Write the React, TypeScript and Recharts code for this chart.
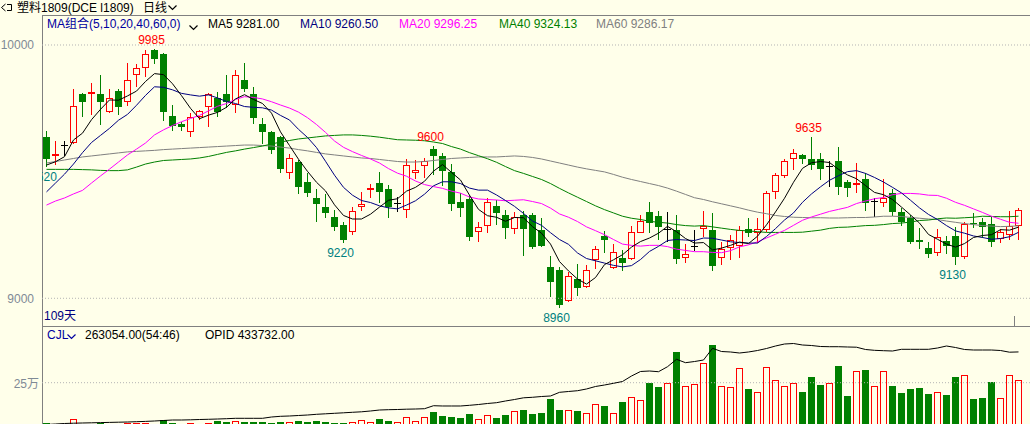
import React from 'react';
import {
  Bar,
  ComposedChart,
  Line,
  ReferenceDot,
  ReferenceLine,
  XAxis,
  YAxis,
} from 'recharts';

// daily bars, l1809, 109 sessions
const opens = [
  9635, 9560, 9605, 9615, 9805, 9808, 9805, 9735, 9820, 9775,
  9880, 9910, 9980, 9965, 9720, 9690, 9655, 9717, 9755, 9790,
  9805, 9765, 9860, 9805, 9690, 9655, 9635, 9495, 9540, 9460,
  9395, 9360, 9320, 9290, 9260, 9362, 9428, 9455, 9430, 9375,
  9350, 9496, 9523, 9590, 9560, 9500, 9379, 9392, 9263, 9287,
  9364, 9329, 9272, 9329, 9329, 9270, 9125, 9112, 8990, 9076,
  9046, 9151, 9246, 9118, 9158, 9155, 9259, 9340, 9325, 9274,
  9270, 9158, 9208, 9272, 9270, 9158, 9197, 9206, 9272, 9259,
  9270, 9418, 9484, 9549, 9566, 9550, 9550, 9523, 9542, 9460,
  9448, 9471, 9384, 9377, 9415, 9340, 9318, 9230, 9197, 9178,
  9226, 9246, 9164, 9299, 9300, 9292, 9234, 9250, 9287,
];
const highs = [
  9660, 9620, 9620, 9825, 9810, 9850, 9880, 9825, 9825, 9930,
  9925, 9980, 9985, 9970, 9765, 9695, 9730, 9745, 9810, 9815,
  9880, 9900, 9930, 9835, 9710, 9660, 9640, 9570, 9545, 9495,
  9430, 9410, 9350, 9300, 9362, 9420, 9450, 9500, 9447, 9400,
  9550, 9546, 9555, 9600, 9572, 9530, 9415, 9408, 9302, 9395,
  9388, 9349, 9342, 9345, 9337, 9316, 9167, 9125, 9105, 9135,
  9131, 9206, 9266, 9214, 9191, 9285, 9329, 9381, 9345, 9342,
  9329, 9213, 9270, 9346, 9338, 9223, 9250, 9285, 9318, 9318,
  9424, 9496, 9549, 9589, 9570, 9635, 9575, 9542, 9598, 9467,
  9533, 9493, 9397, 9470, 9430, 9358, 9329, 9279, 9223, 9274,
  9246, 9283, 9302, 9338, 9316, 9322, 9274, 9345, 9358,
];
const lows = [
  9520, 9525, 9560, 9610, 9715, 9725, 9685, 9730, 9725, 9760,
  9835, 9875, 9925, 9700, 9660, 9660, 9635, 9705, 9675, 9715,
  9750, 9730, 9815, 9690, 9610, 9570, 9495, 9470, 9410, 9400,
  9300, 9318, 9265, 9220, 9248, 9345, 9395, 9375, 9318, 9342,
  9318, 9470, 9476, 9487, 9445, 9345, 9322, 9227, 9223, 9259,
  9289, 9233, 9253, 9167, 9193, 9204, 9004, 8960, 8985, 9010,
  9040, 9116, 9178, 9115, 9109, 9150, 9257, 9259, 9230, 9223,
  9134, 9138, 9188, 9241, 9109, 9131, 9151, 9158, 9243, 9219,
  9263, 9391, 9476, 9507, 9529, 9506, 9467, 9438, 9408, 9401,
  9417, 9345, 9322, 9362, 9326, 9285, 9214, 9195, 9158, 9167,
  9175, 9130, 9154, 9276, 9237, 9204, 9217, 9230, 9230,
];
const closes = [
  9550, 9570, 9605, 9760, 9775, 9815, 9775, 9790, 9755, 9860,
  9910, 9965, 9945, 9735, 9680, 9675, 9715, 9740, 9805, 9735,
  9775, 9880, 9825, 9710, 9655, 9585, 9510, 9555, 9440, 9415,
  9372, 9338, 9280, 9230, 9345, 9372, 9435, 9420, 9362, 9375,
  9525, 9507, 9542, 9560, 9504, 9372, 9358, 9243, 9280, 9379,
  9338, 9279, 9320, 9272, 9204, 9208, 9066, 8974, 9088, 9042,
  9112, 9193, 9230, 9184, 9141, 9261, 9305, 9298, 9280, 9274,
  9156, 9174, 9208, 9287, 9129, 9193, 9230, 9270, 9259, 9272,
  9417, 9487, 9542, 9572, 9549, 9526, 9510, 9523, 9438, 9437,
  9454, 9375, 9384, 9397, 9340, 9302, 9223, 9223, 9174, 9241,
  9208, 9164, 9293, 9296, 9280, 9223, 9261, 9287, 9349,
];

const ma5 = [
  9526, 9539, 9559, 9625, 9652, 9705, 9746, 9783, 9782, 9799,
  9818, 9856, 9887, 9883, 9847, 9800, 9750, 9709, 9723, 9734,
  9754, 9787, 9804, 9785, 9769, 9731, 9657, 9603, 9549, 9501,
  9458, 9424, 9369, 9327, 9313, 9313, 9332, 9360, 9387, 9393,
  9423, 9438, 9462, 9502, 9528, 9497, 9467, 9407, 9351, 9326,
  9320, 9304, 9319, 9318, 9283, 9257, 9214, 9145, 9108, 9076,
  9056, 9082, 9133, 9152, 9172, 9202, 9224, 9238, 9257, 9284,
  9263, 9236, 9218, 9220, 9191, 9198, 9209, 9222, 9216, 9245,
  9290, 9341, 9395, 9458, 9513, 9535, 9540, 9536, 9509, 9487,
  9472, 9445, 9418, 9409, 9390, 9360, 9329, 9297, 9252, 9233,
  9214, 9202, 9216, 9240, 9248, 9251, 9271, 9269, 9281,
];
const ma10 = [
  9420, 9455, 9490, 9530, 9575, 9615, 9643, 9671, 9703, 9726,
  9762, 9801, 9835, 9833, 9823, 9809, 9803, 9798, 9803, 9791,
  9777, 9769, 9757, 9754, 9752, 9743, 9722, 9704, 9667, 9635,
  9595, 9541, 9486, 9438, 9407, 9386, 9378, 9365, 9357, 9353,
  9368, 9385, 9411, 9444, 9460, 9460, 9453, 9435, 9427, 9427,
  9408, 9386, 9363, 9335, 9305, 9288, 9259, 9232, 9213, 9179,
  9157, 9148, 9139, 9130, 9124, 9129, 9153, 9185, 9205, 9228,
  9232, 9230, 9228, 9238, 9237, 9230, 9223, 9220, 9218, 9218,
  9244, 9275, 9309, 9337, 9379, 9412, 9440, 9466, 9484, 9500,
  9504, 9493, 9477, 9459, 9438, 9416, 9387, 9357, 9331, 9311,
  9287, 9266, 9257, 9246, 9240, 9233, 9236, 9243, 9260.5,
];
const ma20 = [
  9368, 9384, 9396, 9412, 9426, 9455, 9483, 9510, 9538, 9566,
  9589, 9613, 9645, 9665, 9682, 9697, 9710, 9722, 9740, 9758,
  9769, 9785, 9796, 9793, 9787, 9776, 9763, 9751, 9735, 9713,
  9686, 9655, 9621, 9596, 9579, 9564, 9550, 9534, 9512, 9494,
  9482, 9463, 9449, 9441, 9434, 9423, 9415, 9400, 9392, 9390,
  9388, 9385, 9387, 9389, 9382, 9374, 9356, 9333, 9320, 9303,
  9282, 9267, 9251, 9232, 9214, 9209, 9206, 9209, 9209, 9204,
  9194, 9189, 9184, 9184, 9181, 9180, 9188, 9203, 9211, 9223,
  9238, 9253, 9268, 9288, 9308, 9321, 9332, 9343, 9351, 9359,
  9374, 9384, 9393, 9398, 9409, 9414, 9414, 9412, 9407, 9406,
  9395, 9379, 9367, 9353, 9339, 9324, 9312, 9300, 9296.25,
];
const ma40 = [
  9509, 9509, 9509, 9509, 9508, 9507, 9505, 9504, 9504, 9507,
  9518, 9530, 9538, 9544, 9546, 9548, 9550, 9554, 9560, 9568,
  9576, 9582, 9589, 9595, 9601, 9609, 9617, 9623, 9629, 9633,
  9637, 9641, 9643, 9645, 9645, 9643, 9640, 9636, 9631, 9626,
  9625, 9624, 9622, 9617, 9611, 9599, 9589, 9575, 9563, 9551,
  9537, 9520, 9504, 9493, 9481, 9469, 9453, 9434, 9416, 9399,
  9382, 9365, 9350, 9337, 9324, 9316, 9311, 9304, 9300, 9297,
  9291, 9287, 9285, 9287, 9282, 9277, 9272, 9268, 9266, 9263,
  9260, 9260, 9260, 9260, 9261, 9265, 9269, 9276, 9280, 9281,
  9284, 9287, 9288, 9291, 9295, 9297, 9301, 9307, 9309, 9314,
  9317, 9316, 9318, 9320, 9324, 9323, 9322, 9322, 9324.13,
];
const ma60 = [
  9534, 9540, 9546, 9552, 9558, 9562, 9566, 9570, 9574, 9578,
  9580, 9582, 9584, 9587, 9589, 9591, 9593, 9595, 9597, 9599,
  9601, 9603, 9605, 9605, 9603, 9601, 9597, 9593, 9587, 9582,
  9576, 9570, 9566, 9562, 9558, 9554, 9552, 9548, 9544, 9540,
  9538, 9538, 9540, 9544, 9548, 9552, 9554, 9556, 9558, 9558,
  9558, 9560, 9562, 9560, 9556, 9550, 9542, 9534, 9526, 9518,
  9511, 9505, 9499, 9489, 9478, 9469, 9461, 9453, 9445, 9435,
  9423, 9410, 9397, 9390, 9381, 9373, 9365, 9357, 9348, 9340,
  9334, 9327, 9323, 9320, 9319, 9318, 9318, 9317, 9317, 9318,
  9319, 9319, 9321, 9324, 9324, 9323, 9319, 9316, 9313, 9311,
  9305, 9300, 9295, 9291, 9287, 9285, 9283, 9284, 9286.17,
];

const volumes = [
  60000, 45000, 40000, 80000, 50000, 48000, 62000, 50000, 52000, 62000,
  62000, 60000, 50000, 75000, 62000, 52000, 60000, 50000, 60000, 72000,
  67000, 72000, 67000, 67000, 67000, 62000, 67000, 64000, 72000, 67000,
  72000, 67000, 62000, 62000, 67000, 75000, 67000, 80000, 72000, 67000,
  89000, 70000, 88000, 113000, 94000, 89000, 84000, 103000, 80000, 98000,
  84000, 98000, 117000, 122000, 103000, 108000, 174000, 122000, 122000, 117000,
  106000, 149000, 141000, 106000, 159000, 182000, 167000, 249000, 230000, 249000,
  394000, 233000, 244000, 341000, 427000, 233000, 228000, 318000, 220000, 206000,
  322000, 261000, 233000, 249000, 206000, 277000, 239000, 249000, 328000, 188000,
  303000, 310000, 233000, 303000, 235000, 202000, 220000, 225000, 197000, 206000,
  192000, 277000, 285000, 174000, 178000, 253000, 178000, 285000, 263054,
];
const openInterest = [
  59300, 61900, 64500, 66000, 67100, 68100, 69100, 70200, 71200, 72200,
  73800, 75300, 77400, 80000, 82500, 82500, 83600, 85100, 86200, 87700,
  89300, 91300, 91300, 91300, 91300, 98000, 101600, 103200, 105800, 108300,
  111900, 114500, 117100, 119700, 122300, 124800, 129000, 134100, 135700, 136700,
  138300, 139300, 140800, 156300, 154800, 154800, 154800, 158400, 162500, 167700,
  171800, 180600, 188300, 197100, 199700, 203800, 206400, 225400, 229600, 233700,
  242500, 255400, 263100, 271900, 281200, 309500, 332800, 335300, 331700, 357500,
  395700, 378200, 384300, 392100, 452400, 435900, 433400, 428200, 433400, 441100,
  451400, 464300, 474600, 477200, 469500, 466900, 461700, 460700, 460700, 459200,
  458100, 446300, 442100, 440100, 438500, 447300, 447300, 447300, 447300, 454000,
  464300, 456600, 446300, 443700, 443700, 443700, 441100, 432400, 433732,
];

const rows = closes.map((c, i) => ({
  i,
  range: [lows[i], highs[i]],
  o: opens[i],
  h: highs[i],
  l: lows[i],
  c,
  ma5: ma5[i],
  ma10: ma10[i],
  ma20: ma20[i],
  ma40: ma40[i],
  ma60: ma60[i],
  vol: volumes[i],
  opi: openInterest[i],
}));

const BG = '#FFFFEA';
const RED = '#FF0000';
const GREEN = '#008000';
const AXIS = '#808080';
const TICK = '#7f8a96';
const FONT = '"Liberation Sans", Arial, "Noto Sans CJK SC", sans-serif';

function Candle(props: any) {
  const { x, y, width, height, payload } = props;
  if (!payload) return null;
  const top = Math.min(y, y + height);
  const bot = Math.max(y, y + height);
  const { o, h, l, c } = payload;
  const k = h > l ? (bot - top) / (h - l) : 0;
  const py = (p: number) => Math.round(top + (h - p) * k);
  const cx = Math.floor(x + width / 2) + 0.5;
  const yH = py(h);
  const yL = py(l);
  const yO = py(o);
  const yC = py(c);
  if (c === o) {
    return (
      <g stroke="#000" strokeWidth={1}>
        <line x1={cx} x2={cx} y1={yH} y2={yL} />
        <line x1={cx - 3.5} x2={cx + 3.5} y1={yC + 0.5} y2={yC + 0.5} />
      </g>
    );
  }
  if (c > o) {
    const bh = Math.max(1, yO - yC - 1);
    return (
      <g stroke={RED} strokeWidth={1} fill="none">
        <line x1={cx} x2={cx} y1={yH} y2={yC} />
        <line x1={cx} x2={cx} y1={yO} y2={yL} />
        <rect x={cx - 3} y={yC + 0.5} width={6} height={bh} />
      </g>
    );
  }
  return (
    <g>
      <line x1={cx} x2={cx} y1={yH} y2={yL} stroke={GREEN} strokeWidth={1} />
      <rect x={cx - 3.5} y={yO} width={7} height={Math.max(1, yC - yO)} fill={GREEN} />
    </g>
  );
}

function VolBar(props: any) {
  const { x, y, width, height, payload } = props;
  if (!payload) return null;
  const top = Math.round(Math.min(y, y + height));
  const bot = Math.max(y, y + height);
  const cx = Math.floor(x + width / 2) + 0.5;
  if (payload.c >= payload.o) {
    return (
      <rect x={cx - 3} y={top + 0.5} width={6} height={bot - top} fill="none" stroke={RED} strokeWidth={1} />
    );
  }
  return <rect x={cx - 3.5} y={top} width={7} height={bot - top} fill={GREEN} />;
}

const markLabel = (text: string, color: string, dy: number) => (p: any) => {
  const vb = p.viewBox || {};
  const cx = vb.x + (vb.width || 0) / 2 - 3;
  const cy = vb.y + (vb.height || 0) / 2 + dy;
  return (
    <svg x={42} y={0} width={988} height={326} overflow="hidden">
      <text
        x={cx - 42}
        y={cy}
        textAnchor="middle"
        dominantBaseline="central"
        fill={color}
        fontSize={12}
        fontFamily={FONT}
      >
        {text}
      </text>
    </svg>
  );
};

const T = ({ x, y, color = '#000', children, right }: any) => (
  <span
    style={{
      position: 'absolute',
      left: right ? undefined : x,
      right: right ? 1030 - x : undefined,
      top: y - 7,
      fontSize: 12,
      lineHeight: '14px',
      color,
      fontFamily: FONT,
      whiteSpace: 'nowrap',
    }}
  >
    {children}
  </span>
);

const Chevron = ({ x, y, color }: any) => (
  <svg style={{ position: 'absolute', left: x, top: y }} width={10} height={6}>
    <polyline points="0.5,0.5 4.5,4.5 8.5,0.5" fill="none" stroke={color} strokeWidth={1.2} />
  </svg>
);

export default function App() {
  return (
    <div
      style={{
        position: 'absolute',
        left: 0,
        top: 0,
        width: 1030,
        height: 424,
        overflow: 'hidden',
        background: BG,
      }}
    >
      {/* frame */}
      <div style={{ position: 'absolute', left: 42, top: 15, width: 988, height: 1, background: AXIS }} />
      <div style={{ position: 'absolute', left: 42, top: 326, width: 988, height: 1, background: AXIS }} />
      <div style={{ position: 'absolute', left: 42, top: 15, width: 1, height: 409, background: AXIS }} />
      <div style={{ position: 'absolute', left: 1014, top: 316, width: 1, height: 10, background: AXIS }} />

      <div style={{ position: 'absolute', left: 0, top: 0 }}>
        <ComposedChart width={1030} height={326} data={rows} margin={{ top: 30, right: 0, left: 0, bottom: 0 }}>
          <XAxis dataKey="i" type="category" hide padding={{ left: 0, right: 7 }} />
          <YAxis
            domain={[8890.6, 10059.2]}
            allowDataOverflow
            ticks={[9000, 10000]}
            width={42}
            axisLine={false}
            tickLine={false}
            tickMargin={2}
            interval={0}
            tick={{ fontSize: 12, fill: TICK, fontFamily: FONT }}
          />
          <ReferenceLine y={10000} stroke="#b4b4b4" strokeDasharray="1 2" />
          <ReferenceLine y={9000} stroke="#b4b4b4" strokeDasharray="1 2" />
          <Bar dataKey="range" barSize={7} shape={<Candle />} isAnimationActive={false} />
          <Line dataKey="ma60" stroke="#808080" strokeWidth={1} dot={false} isAnimationActive={false} />
          <Line dataKey="ma40" stroke={GREEN} strokeWidth={1} dot={false} isAnimationActive={false} />
          <Line dataKey="ma20" stroke="#FF00FF" strokeWidth={1} dot={false} isAnimationActive={false} />
          <Line dataKey="ma10" stroke="#000080" strokeWidth={1} dot={false} isAnimationActive={false} />
          <Line dataKey="ma5" stroke="#000000" strokeWidth={1} dot={false} isAnimationActive={false} />
          <ReferenceDot x={12} y={highs[12]} r={1} fill="none" stroke="none" label={markLabel('9985', RED, -9)} />
          <ReferenceDot x={43} y={highs[43]} r={1} fill="none" stroke="none" label={markLabel('9600', RED, -9)} />
          <ReferenceDot x={85} y={highs[85]} r={1} fill="none" stroke="none" label={markLabel('9635', RED, -9)} />
          <ReferenceDot x={0} y={lows[0]} r={1} fill="none" stroke="none" label={markLabel('9520', '#008080', 10)} />
          <ReferenceDot x={33} y={lows[33]} r={1} fill="none" stroke="none" label={markLabel('9220', '#008080', 10)} />
          <ReferenceDot x={57} y={lows[57]} r={1} fill="none" stroke="none" label={markLabel('8960', '#008080', 10)} />
          <ReferenceDot x={101} y={lows[101]} r={1} fill="none" stroke="none" label={markLabel('9130', '#008080', 10)} />
        </ComposedChart>
      </div>

      <div style={{ position: 'absolute', left: 0, top: 326 }}>
        <ComposedChart width={1030} height={110} data={rows} margin={{ top: 3.4, right: 0, left: 0, bottom: 0 }}>
          <XAxis dataKey="i" type="category" hide padding={{ left: 0, right: 7 }} />
          <YAxis
            yAxisId="vol"
            domain={[0, 500000]}
            allowDataOverflow
            ticks={[250000]}
            width={42}
            axisLine={false}
            tickLine={false}
            tick={false}
          />
          <YAxis yAxisId="opi" hide domain={[0, 550000]} allowDataOverflow />
          <ReferenceLine yAxisId="vol" y={250000} stroke="#b4b4b4" strokeDasharray="1 2" />
          <Bar yAxisId="vol" dataKey="vol" barSize={7} shape={<VolBar />} isAnimationActive={false} />
          <Line yAxisId="opi" dataKey="opi" stroke="#000" strokeWidth={1} dot={false} isAnimationActive={false} />
        </ComposedChart>
      </div>

      {/* header */}
      <svg style={{ position: 'absolute', left: 1, top: 3 }} width={13} height={9}>
        <polyline points="4.5,1 0.5,4.5 4.5,8" fill="none" stroke="#000" strokeWidth={1} />
        <polyline points="6,1.5 10.5,1.5 10.5,7.5 6,7.5" fill="none" stroke="#000" strokeWidth={1} />
      </svg>
      <T x={17} y={8}>塑料1809(DCE l1809)</T>
      <T x={143} y={8}>日线</T>
      <Chevron x={168} y={5} color="#000" />

      <T x={47} y={24} color="#0000A0">MA组合(5,10,20,40,60,0)</T>
      <Chevron x={189} y={25} color="#000" />
      <T x={208} y={24}>MA5 9281.00</T>
      <T x={300} y={24} color="#000080">MA10 9260.50</T>
      <T x={399} y={24} color="#FF00FF">MA20 9296.25</T>
      <T x={499} y={24} color={GREEN}>MA40 9324.13</T>
      <T x={596} y={24} color="#808080">MA60 9286.17</T>

      <T x={44} y={316} color="#000080">109天</T>

      <T x={47} y={335} color="#0000A0">CJL</T>
      <Chevron x={67} y={334} color="#0000A0" />
      <T x={85} y={335}>263054.00(54:46)</T>
      <T x={205} y={335}>OPID 433732.00</T>
      <T x={39} y={384} color={TICK} right>25万</T>
    </div>
  );
}
